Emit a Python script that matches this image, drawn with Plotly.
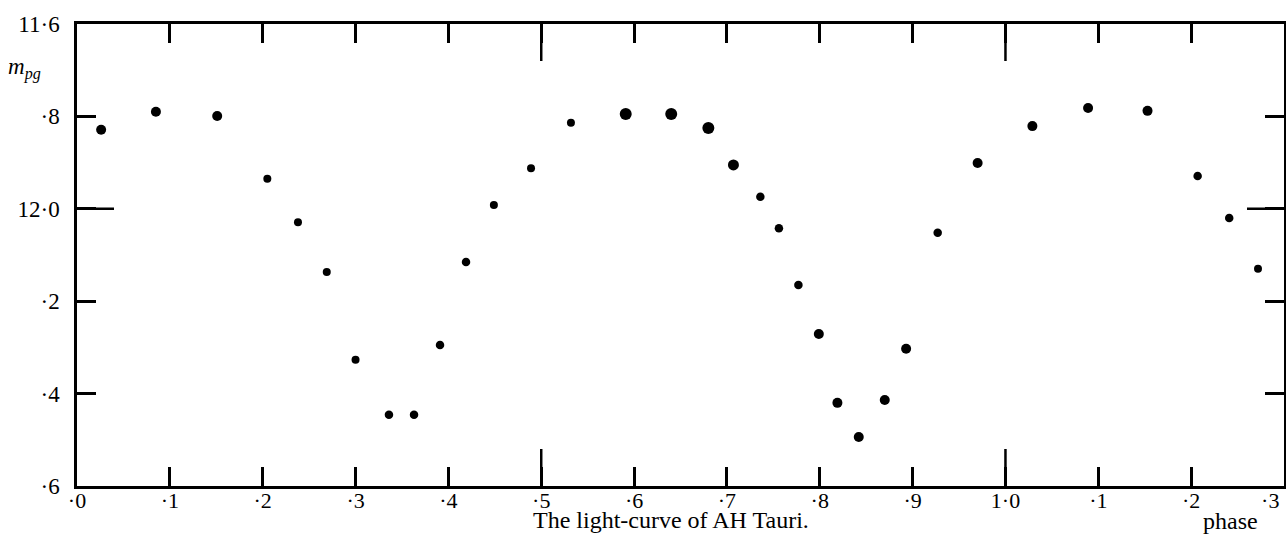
import plotly.graph_objects as go

# ---- data ----
phase = [0.026, 0.085, 0.151, 0.205, 0.238, 0.269, 0.300, 0.336, 0.363, 0.391,
         0.419, 0.449, 0.489, 0.532, 0.591, 0.640, 0.680, 0.707, 0.736, 0.756,
         0.777, 0.799, 0.819, 0.842, 0.870, 0.893, 0.927, 0.970, 1.029, 1.089,
         1.153, 1.207, 1.241, 1.272]
mag = [11.829, 11.790, 11.799, 11.935, 12.029, 12.137, 12.327, 12.446, 12.446, 12.295,
       12.115, 11.992, 11.912, 11.814, 11.795, 11.795, 11.825, 11.905, 11.974, 12.042,
       12.165, 12.271, 12.420, 12.494, 12.414, 12.303, 12.052, 11.901, 11.821, 11.782,
       11.788, 11.929, 12.020, 12.130]

x_tickvals = [0.0, 0.1, 0.2, 0.3, 0.4, 0.5, 0.6, 0.7, 0.8, 0.9, 1.0, 1.1, 1.2, 1.3]
x_ticktext = ["·0", "·1", "·2", "·3", "·4", "·5", "·6", "·7", "·8", "·9", "1·0", "·1", "·2",
              "·3\u00a0\u00a0\u00a0\u00a0\u00a0"]
y_tickvals = [11.6, 11.8, 12.0, 12.2, 12.4, 12.6]
y_ticktext = ["11·6", "·8", "12·0", "·2", "·4", "·6"]
major_phase = [0.5, 1.0]
major_mag = [12.0]

# ---- style ----
dot_sizes = [10, 10, 10, 8, 8, 8, 8, 8.5, 8.5, 8.5,
             8.5, 8, 8, 8, 12, 12, 12, 11, 8.5, 8.5,
             8.5, 10, 10, 10, 10, 10, 8.5, 10, 10, 10,
             10, 8.5, 8.5, 8]
FONT = "Liberation Serif, DejaVu Serif, serif"
W, H = 1286, 535
L, R, T, B = 77, 2, 24, 49
plot_w = W - L - R
plot_h = H - T - B
long_tick = 37
lw = 2.5

fig = go.Figure()
fig.add_trace(go.Scatter(
    x=phase, y=mag, mode="markers",
    marker=dict(color="#000000", opacity=1, size=dot_sizes, line=dict(width=0)),
    showlegend=False, hoverinfo="x+y"))

shapes = []
for p in major_phase:
    shapes.append(dict(type="line", xref="x", yref="paper", x0=p, x1=p,
                       y0=0, y1=long_tick / plot_h, line=dict(color="black", width=lw)))
    shapes.append(dict(type="line", xref="x", yref="paper", x0=p, x1=p,
                       y0=1, y1=1 - long_tick / plot_h, line=dict(color="black", width=lw)))
for m in major_mag:
    shapes.append(dict(type="line", xref="paper", yref="y", x0=0, x1=long_tick / plot_w,
                       y0=m, y1=m, line=dict(color="black", width=lw)))
    shapes.append(dict(type="line", xref="paper", yref="y", x0=1, x1=1 - long_tick / plot_w,
                       y0=m, y1=m, line=dict(color="black", width=lw)))

fig.update_layout(
    width=W, height=H,
    margin=dict(l=L, r=R, t=T, b=B, autoexpand=False),
    paper_bgcolor="white", plot_bgcolor="white",
    font=dict(family=FONT, size=19, color="black"),
    shapes=shapes,
    xaxis=dict(range=[0, 1.3], tickvals=x_tickvals, ticktext=x_ticktext,
               ticks="inside", ticklen=19, tickwidth=lw, tickcolor="black",
               showline=True, linewidth=lw, linecolor="black", mirror="allticks",
               showgrid=False, zeroline=False, ticklabelstandoff=-7,
               ticklabeloverflow="allow", automargin=False,
               tickfont=dict(family=FONT, size=22, color="black")),
    yaxis=dict(range=[12.6, 11.6], tickvals=y_tickvals, ticktext=y_ticktext,
               ticks="inside", ticklen=19, tickwidth=lw, tickcolor="black",
               showline=True, linewidth=lw, linecolor="black", mirror="allticks",
               showgrid=False, zeroline=False, ticklabelstandoff=10,
               automargin=False,
               tickfont=dict(family=FONT, size=23, color="black")),
    annotations=[
        dict(text="The light-curve of AH Tauri.", xref="paper", yref="paper",
             x=(671 - L) / plot_w, y=-(520 - T - plot_h) / plot_h,
             xanchor="center", yanchor="middle", showarrow=False,
             font=dict(family=FONT, size=24, color="black")),
        dict(text="phase", xref="paper", yref="paper",
             x=(1230 - L) / plot_w, y=-(521 - T - plot_h) / plot_h,
             xanchor="center", yanchor="middle", showarrow=False,
             font=dict(family=FONT, size=24, color="black")),
        dict(text="<i>m</i><sub><i>pg</i></sub>", xref="paper", yref="paper",
             x=(24 - L) / plot_w, y=1 - (68 - T) / plot_h,
             xanchor="center", yanchor="middle", showarrow=False,
             font=dict(family=FONT, size=23, color="black")),
    ],
)

fig.write_html("out.html", config={"displayModeBar": False},
               post_script="document.body.style.margin='0';document.body.style.padding='0';")
